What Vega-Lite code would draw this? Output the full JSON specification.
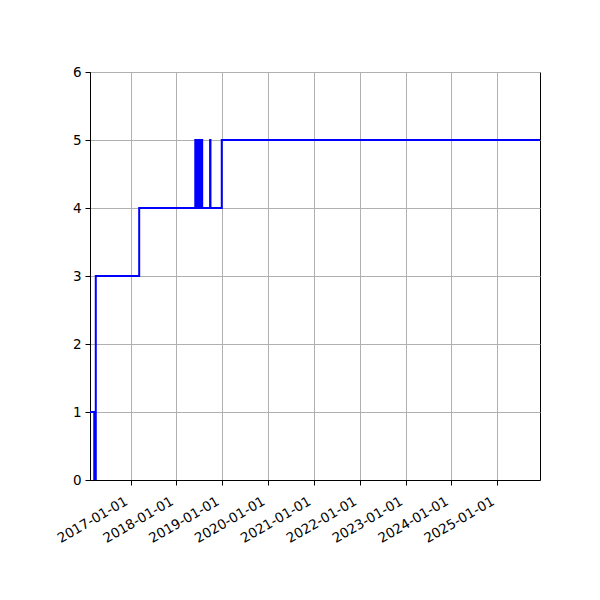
{
  "$schema": "https://vega.github.io/schema/vega-lite/v6.json",
  "autosize": {"type": "none"},
  "padding": {"left": 90, "top": 72, "right": 60, "bottom": 120},
  "width": 450,
  "height": 408,
  "data": {
    "values": [
      {"date": "2016-02-12", "value": 1},
      {"date": "2016-03-17", "value": 0},
      {"date": "2016-03-20", "value": 1},
      {"date": "2016-03-22", "value": 0},
      {"date": "2016-03-25", "value": 1},
      {"date": "2016-03-27", "value": 0},
      {"date": "2016-03-29", "value": 3},
      {"date": "2017-03-10", "value": 4},
      {"date": "2018-05-31", "value": 5},
      {"date": "2018-06-03", "value": 4},
      {"date": "2018-06-05", "value": 5},
      {"date": "2018-06-08", "value": 4},
      {"date": "2018-06-10", "value": 5},
      {"date": "2018-06-13", "value": 4},
      {"date": "2018-06-15", "value": 5},
      {"date": "2018-06-18", "value": 4},
      {"date": "2018-06-20", "value": 5},
      {"date": "2018-06-23", "value": 4},
      {"date": "2018-06-25", "value": 5},
      {"date": "2018-06-28", "value": 4},
      {"date": "2018-06-30", "value": 5},
      {"date": "2018-07-03", "value": 4},
      {"date": "2018-07-06", "value": 5},
      {"date": "2018-07-09", "value": 4},
      {"date": "2018-07-12", "value": 5},
      {"date": "2018-07-15", "value": 4},
      {"date": "2018-07-18", "value": 5},
      {"date": "2018-07-21", "value": 4},
      {"date": "2018-07-23", "value": 5},
      {"date": "2018-07-25", "value": 4},
      {"date": "2018-09-26", "value": 5},
      {"date": "2018-09-29", "value": 4},
      {"date": "2018-12-28", "value": 5},
      {"date": "2025-12-07", "value": 5}
    ]
  },
  "mark": {
    "type": "line",
    "interpolate": "step-after",
    "color": "#0000ff",
    "strokeWidth": 2,
    "clip": true
  },
  "encoding": {
    "x": {
      "field": "date",
      "type": "temporal",
      "scale": {
        "type": "utc",
        "domain": [
          {"year": 2016, "month": 2, "date": 12, "utc": true},
          {"year": 2025, "month": 12, "date": 7, "utc": true}
        ]
      },
      "axis": {
        "title": null,
        "labelExpr": "utcFormat(datum.value, '%Y-%m-%d')",
        "tickCount": {"interval": "year", "step": 1},
        "labelAngle": -30,
        "labelAlign": "right",
        "labelBaseline": "top",
        "labelPadding": 9,
        "labelOffset": -8
      }
    },
    "y": {
      "field": "value",
      "type": "quantitative",
      "scale": {"domain": [0, 6], "nice": false, "zero": false},
      "axis": {"title": null, "values": [0, 1, 2, 3, 4, 5, 6]}
    }
  },
  "config": {
    "view": {"stroke": "#000000", "strokeWidth": 1},
    "axis": {
      "domainColor": "#000000",
      "domainWidth": 1,
      "tickColor": "#000000",
      "tickSize": 5,
      "tickWidth": 1,
      "labelColor": "#000000",
      "labelFont": "DejaVu Sans",
      "labelFontSize": 13.5,
      "labelPadding": 4,
      "labelFlush": false,
      "labelOverlap": false,
      "grid": true,
      "gridColor": "#b0b0b0",
      "gridWidth": 1
    }
  }
}
